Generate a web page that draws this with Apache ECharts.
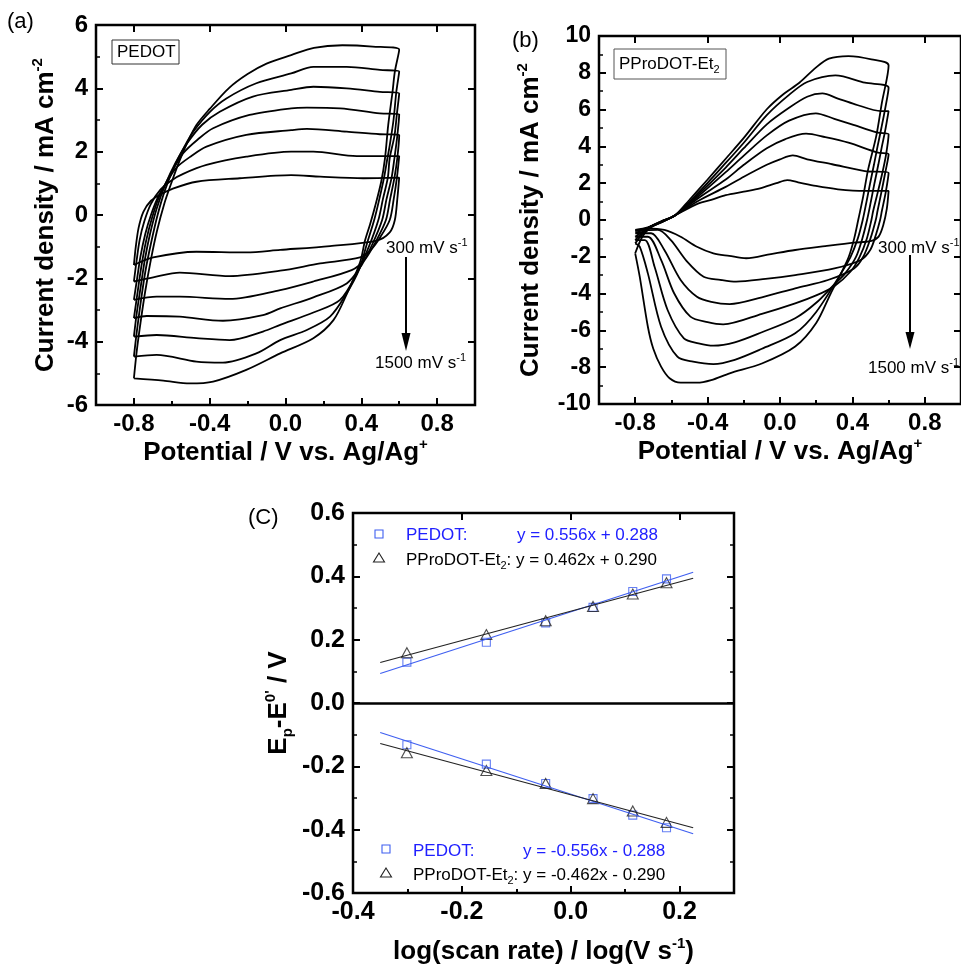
<!DOCTYPE html>
<html>
<head>
<meta charset="utf-8">
<script src="https://cdn.jsdelivr.net/npm/echarts@6/dist/echarts.min.js"></script>
<style>html,body{margin:0;padding:0;background:#fff}#main{width:961px;height:966px}</style>
</head>
<body>
<div id="main"></div>
<script>
// ---- (a) PEDOT cyclic voltammograms, [potential V, current mA cm-2], anodic then cathodic sweep
const pedot300 = [[-0.8,-1.58],[-0.79,-1.0],[-0.775,-0.4],[-0.75,0.1],[-0.71,0.45],[-0.66,0.65],[-0.6,0.82],[-0.47,1.05],[-0.242,1.16],[0.03,1.26],[0.183,1.21],[0.41,1.16],[0.6,1.18],
  [0.59,0.5],[0.577,-0.16],[0.55,-0.55],[0.481,-0.81],[0.235,-0.98],[-0.028,-1.1],[-0.207,-1.18],[-0.47,-1.16],[-0.698,-1.34],[-0.8,-1.58]];
const pedot500 = [[-0.8,-2.1],[-0.787,-1.5],[-0.77,-0.8],[-0.745,-0.2],[-0.71,0.35],[-0.66,0.8],[-0.6,1.1],[-0.54,1.3],[-0.417,1.58],[-0.207,1.84],[0.03,2.0],[0.147,2.0],[0.376,1.86],[0.6,1.86],
  [0.588,1.18],[0.571,0.5],[0.55,-0.16],[0.5,-0.7],[0.45,-1.1],[0.393,-1.34],[0.183,-1.53],[-0.028,-1.76],[-0.295,-1.93],[-0.558,-1.82],[-0.698,-1.97],[-0.8,-2.1]];
const pedot700 = [[-0.8,-2.68],[-0.783,-2.0],[-0.765,-1.3],[-0.74,-0.6],[-0.71,0.0],[-0.67,0.6],[-0.62,1.1],[-0.575,1.5],[-0.5,1.85],[-0.417,2.16],[-0.207,2.53],[0.03,2.68],[0.113,2.72],[0.323,2.63],[0.498,2.55],[0.6,2.53],
  [0.59,1.8],[0.575,1.18],[0.552,0.5],[0.53,-0.16],[0.48,-0.8],[0.42,-1.4],[0.349,-1.74],[0.147,-2.1],[-0.028,-2.37],[-0.295,-2.65],[-0.558,-2.58],[-0.68,-2.58],[-0.8,-2.68]];
const pedot900 = [[-0.8,-3.26],[-0.782,-2.5],[-0.76,-1.6],[-0.735,-0.8],[-0.705,-0.1],[-0.665,0.6],[-0.61,1.25],[-0.54,1.95],[-0.46,2.4],[-0.382,2.74],[-0.19,3.16],[0.03,3.37],[0.113,3.39],[0.288,3.37],[0.498,3.21],[0.6,3.18],
  [0.59,2.5],[0.575,1.8],[0.56,1.18],[0.533,0.5],[0.51,-0.16],[0.46,-0.9],[0.4,-1.6],[0.323,-2.16],[0.147,-2.6],[-0.028,-2.95],[-0.119,-3.16],[-0.33,-3.34],[-0.558,-3.21],[-0.733,-3.19],[-0.8,-3.26]];
const pedot1100 = [[-0.8,-3.84],[-0.785,-3.1],[-0.765,-2.3],[-0.742,-1.4],[-0.715,-0.6],[-0.68,0.2],[-0.635,0.95],[-0.58,1.65],[-0.52,2.26],[-0.44,2.85],[-0.347,3.26],[-0.172,3.74],[0.03,3.95],[0.147,4.05],[0.323,4.0],[0.498,3.89],[0.6,3.84],
  [0.588,3.2],[0.575,2.5],[0.55,1.8],[0.54,1.18],[0.514,0.5],[0.49,-0.16],[0.44,-1.0],[0.38,-1.8],[0.288,-2.68],[0.147,-3.08],[-0.028,-3.47],[-0.119,-3.68],[-0.295,-3.95],[-0.47,-3.89],[-0.68,-3.79],[-0.8,-3.84]];
const pedot1300 = [[-0.8,-4.47],[-0.785,-3.7],[-0.765,-2.8],[-0.74,-1.8],[-0.71,-0.9],[-0.675,0.0],[-0.635,0.8],[-0.585,1.55],[-0.53,2.2],[-0.487,2.63],[-0.4,3.25],[-0.312,3.68],[-0.154,4.16],[0.03,4.47],[0.147,4.68],[0.323,4.68],[0.498,4.58],[0.6,4.53],
  [0.585,3.9],[0.57,3.0],[0.55,2.2],[0.538,1.8],[0.52,1.18],[0.495,0.5],[0.468,-0.16],[0.43,-0.9],[0.39,-1.7],[0.32,-2.5],[0.235,-3.21],[0.113,-3.63],[-0.028,-3.95],[-0.154,-4.37],[-0.33,-4.66],[-0.47,-4.63],[-0.68,-4.42],[-0.8,-4.47]];
const pedot1500 = [[-0.8,-5.16],[-0.785,-4.3],[-0.765,-3.4],[-0.74,-2.4],[-0.71,-1.4],[-0.678,-0.5],[-0.64,0.35],[-0.6,1.05],[-0.56,1.7],[-0.52,2.26],[-0.47,2.84],[-0.4,3.35],[-0.3,4.0],[-0.2,4.45],[-0.1,4.78],[0.03,5.05],[0.15,5.28],[0.3,5.36],[0.46,5.32],[0.6,5.22],
  [0.577,4.53],[0.565,3.9],[0.542,2.84],[0.525,1.79],[0.505,1.05],[0.474,0.3],[0.446,-0.3],[0.42,-0.8],[0.393,-1.5],[0.323,-2.5],[0.253,-3.32],[0.147,-3.89],[-0.028,-4.37],[-0.207,-4.89],[-0.382,-5.26],[-0.505,-5.32],[-0.645,-5.23],[-0.8,-5.16]];

// ---- (b) PProDOT-Et2 cyclic voltammograms
const ppro300 = [[-0.8,-0.54],[-0.73,-0.4],[-0.65,-0.1],[-0.58,0.25],[-0.45,0.9],[-0.38,1.09],[-0.3,1.35],[-0.2,1.54],[-0.11,1.72],[-0.02,2.0],[0.04,2.17],[0.1,2.05],[0.198,1.85],[0.32,1.67],[0.469,1.58],[0.6,1.58],
  [0.59,0.6],[0.57,-0.3],[0.545,-0.9],[0.5,-1.15],[0.409,-1.23],[0.25,-1.42],[0.084,-1.63],[-0.05,-1.85],[-0.187,-2.08],[-0.28,-1.95],[-0.368,-1.81],[-0.459,-1.45],[-0.549,-0.91],[-0.639,-0.54],[-0.73,-0.45],[-0.8,-0.54]];
const ppro500 = [[-0.8,-0.6],[-0.73,-0.42],[-0.65,-0.1],[-0.58,0.25],[-0.45,1.05],[-0.3,1.8],[-0.2,2.35],[-0.073,3.0],[0.0,3.3],[0.071,3.51],[0.15,3.3],[0.288,3.03],[0.469,2.66],[0.6,2.57],
  [0.584,1.5],[0.563,0.5],[0.553,0.0],[0.53,-0.8],[0.5,-1.6],[0.446,-2.17],[0.301,-2.63],[0.084,-2.99],[-0.08,-3.2],[-0.242,-3.35],[-0.33,-3.25],[-0.422,-3.08],[-0.513,-2.26],[-0.603,-1.09],[-0.675,-0.54],[-0.8,-0.6]];
const ppro700 = [[-0.8,-0.72],[-0.73,-0.42],[-0.65,-0.08],[-0.58,0.25],[-0.45,1.2],[-0.3,2.2],[-0.2,3.0],[-0.073,3.9],[0.03,4.4],[0.144,4.69],[0.25,4.5],[0.378,4.2],[0.541,3.66],[0.6,3.57],
  [0.58,2.5],[0.56,1.5],[0.539,0.5],[0.529,0.0],[0.5,-1.0],[0.46,-2.0],[0.409,-2.63],[0.265,-3.26],[0.084,-3.71],[-0.1,-4.2],[-0.278,-4.57],[-0.38,-4.45],[-0.459,-4.17],[-0.549,-3.26],[-0.639,-1.63],[-0.712,-0.72],[-0.8,-0.72]];
const ppro900 = [[-0.8,-0.91],[-0.73,-0.43],[-0.65,-0.07],[-0.58,0.25],[-0.45,1.3],[-0.3,2.6],[-0.2,3.5],[-0.073,4.6],[0.05,5.4],[0.198,5.8],[0.3,5.5],[0.397,5.2],[0.541,4.75],[0.6,4.66],
  [0.585,3.5],[0.564,2.5],[0.54,1.5],[0.515,0.5],[0.505,0.0],[0.48,-1.0],[0.44,-2.0],[0.39,-2.8],[0.3,-3.6],[0.2,-4.1],[0.084,-4.53],[-0.1,-5.1],[-0.314,-5.67],[-0.4,-5.55],[-0.495,-5.25],[-0.585,-3.98],[-0.657,-2.17],[-0.73,-0.91],[-0.8,-0.91]];
const ppro1100 = [[-0.8,-1.09],[-0.73,-0.44],[-0.65,-0.06],[-0.58,0.25],[-0.45,1.4],[-0.3,2.85],[-0.2,3.9],[-0.073,5.2],[0.05,6.1],[0.15,6.7],[0.234,6.88],[0.32,6.6],[0.415,6.29],[0.559,5.92],[0.6,5.92],
  [0.58,4.8],[0.563,4.0],[0.543,3.0],[0.522,2.0],[0.502,1.0],[0.481,0.0],[0.455,-1.0],[0.42,-2.0],[0.36,-2.9],[0.3,-3.5],[0.2,-4.5],[0.084,-5.34],[-0.1,-6.1],[-0.25,-6.65],[-0.368,-6.83],[-0.45,-6.7],[-0.531,-6.43],[-0.621,-4.89],[-0.693,-2.54],[-0.747,-1.09],[-0.8,-1.09]];
const ppro1300 = [[-0.8,-1.27],[-0.73,-0.45],[-0.65,-0.05],[-0.58,0.25],[-0.45,1.5],[-0.3,3.1],[-0.2,4.2],[-0.073,5.7],[0.05,6.8],[0.15,7.5],[0.306,7.86],[0.469,7.46],[0.6,7.19],
  [0.58,6.0],[0.56,5.0],[0.539,4.0],[0.519,3.0],[0.498,2.0],[0.478,1.0],[0.457,0.0],[0.43,-1.0],[0.39,-2.0],[0.337,-2.9],[0.2,-5.0],[0.084,-6.16],[-0.1,-7.0],[-0.25,-7.6],[-0.368,-7.83],[-0.48,-7.7],[-0.567,-7.43],[-0.657,-5.8],[-0.73,-2.9],[-0.775,-1.45],[-0.8,-1.27]];
const ppro1500 = [[-0.8,-1.81],[-0.76,-0.9],[-0.72,-0.45],[-0.65,-0.05],[-0.58,0.25],[-0.5,1.1],[-0.4,2.2],[-0.3,3.33],[-0.2,4.46],[-0.073,6.02],[0.02,6.85],[0.107,7.46],[0.198,8.28],[0.27,8.77],[0.378,8.91],[0.505,8.73],[0.6,8.4],
  [0.563,6.38],[0.532,4.57],[0.487,2.75],[0.46,1.3],[0.433,0.04],[0.41,-1.0],[0.38,-2.0],[0.337,-2.9],[0.28,-4.0],[0.2,-5.6],[0.084,-6.88],[-0.1,-7.8],[-0.278,-8.33],[-0.38,-8.7],[-0.459,-8.84],[-0.549,-8.84],[-0.61,-8.6],[-0.657,-7.97],[-0.7,-7.0],[-0.73,-5.8],[-0.775,-3.08],[-0.8,-1.81]];

// ---- (C) peak potential vs log(scan rate)
const logRate = [-0.301, -0.155, -0.046, 0.041, 0.114, 0.176];
const pedotAnodic = [0.129, 0.192, 0.253, 0.302, 0.352, 0.392];
const pproAnodic = [0.159, 0.216, 0.260, 0.305, 0.344, 0.380];
const pedotCathodic = [-0.132, -0.193, -0.254, -0.302, -0.354, -0.394];
const pproCathodic = [-0.157, -0.213, -0.254, -0.302, -0.341, -0.377];
const fitX = [-0.35, 0.225];
const pedotAnodicFit = [0.093, 0.413];
const pproAnodicFit = [0.128, 0.394];
const pedotCathodicFit = [-0.093, -0.413];
const pproCathodicFit = [-0.128, -0.394];

const cvTicksMajor = [-0.8, -0.4, 0, 0.4, 0.8];
const cvTicksMinor = [-0.6, -0.2, 0.2, 0.6];
const logTicksMajor = [-0.4, -0.2, 0, 0.2];
const logTicksMinor = [-0.3, -0.1, 0.1];

const FONT = '"Liberation Sans", Arial, Helvetica, sans-serif';
const BLUE = '#2020ff';
const BLUE_LINE = '#3f5ff0';
const DARK = '#222';

function fmt1(v) { return Math.abs(v) < 1e-9 ? '0.0' : v.toFixed(1); }

const titleRich = {
  b: { fontSize: 26, fontWeight: 'bold', fontFamily: FONT, color: '#000', lineHeight: 32 },
  sup: { fontSize: 15, fontWeight: 'bold', fontFamily: FONT, color: '#000', verticalAlign: 'top', lineHeight: 16 },
  sub: { fontSize: 15, fontWeight: 'bold', fontFamily: FONT, color: '#000', verticalAlign: 'bottom', lineHeight: 12 }
};
const tickStyle = { color: '#000', width: 2 };

function makeX(grid, min, max, majors, minors, fs, name, nameGap) {
  return [
    { gridIndex: grid, type: 'value', min: min, max: max, position: 'bottom',
      axisLine: { show: false, onZero: false }, splitLine: { show: false },
      axisTick: { inside: true, length: 7, lineStyle: tickStyle, customValues: majors },
      axisLabel: { customValues: majors, fontSize: fs, fontWeight: 'bold', fontFamily: FONT, color: '#000', margin: 7, formatter: fmt1 },
      name: name, nameLocation: 'middle', nameGap: nameGap, nameTextStyle: { rich: titleRich } },
    { gridIndex: grid, type: 'value', min: min, max: max, position: 'bottom',
      axisLine: { show: false, onZero: false }, splitLine: { show: false }, axisLabel: { show: false },
      axisTick: { inside: true, length: 4, lineStyle: tickStyle, customValues: minors } },
    { gridIndex: grid, type: 'value', min: min, max: max, position: 'top',
      axisLine: { show: false, onZero: false }, splitLine: { show: false }, axisLabel: { show: false },
      axisTick: { inside: true, length: 7, lineStyle: tickStyle, customValues: majors } }
  ];
}

function makeY(grid, min, max, interval, fs, fmt, name, nameGap, rightMinor) {
  return [
    { gridIndex: grid, type: 'value', min: min, max: max, interval: interval, position: 'left',
      axisLine: { show: false, onZero: false }, splitLine: { show: false },
      axisTick: { inside: true, length: 7, lineStyle: tickStyle },
      minorTick: { show: true, splitNumber: 2, length: 4, lineStyle: { color: '#000', width: 1.5 } },
      axisLabel: { fontSize: fs, fontWeight: 'bold', fontFamily: FONT, color: '#000', margin: 8, formatter: fmt },
      name: name, nameLocation: 'middle', nameRotate: 90, nameGap: nameGap, nameTextStyle: { rich: titleRich } },
    { gridIndex: grid, type: 'value', min: min, max: max, interval: interval, position: 'right',
      axisLine: { show: false, onZero: false }, splitLine: { show: false }, axisLabel: { show: false },
      axisTick: { inside: true, length: 7, lineStyle: tickStyle },
      minorTick: { show: rightMinor, splitNumber: 2, length: 4, lineStyle: { color: '#000', width: 1.5 } } }
  ];
}

const potentialName = '{b|Potential / V vs. Ag/Ag}{sup|+}';
const currentName = '{b|Current density / mA cm}{sup|-2}';

function cvSeries(data, xi, yi) {
  return { type: 'line', xAxisIndex: xi, yAxisIndex: yi, data: data, showSymbol: false, smooth: 0.3,
    silent: true, lineStyle: { color: '#000', width: 1.8 } };
}

const series = [];
[pedot300, pedot500, pedot700, pedot900, pedot1100, pedot1300, pedot1500].forEach(function (d) { series.push(cvSeries(d, 0, 0)); });
[ppro300, ppro500, ppro700, ppro900, ppro1100, ppro1300, ppro1500].forEach(function (d) { series.push(cvSeries(d, 3, 2)); });

function pairs(xs, ys) { return xs.map(function (x, i) { return [x, ys[i]]; }); }
function fitSeries(ys, color, withZero) {
  const s = { type: 'line', xAxisIndex: 6, yAxisIndex: 4, data: pairs(fitX, ys), showSymbol: false, silent: true,
    lineStyle: { color: color, width: 1.2 } };
  if (withZero) {
    s.markLine = { silent: true, symbol: 'none', label: { show: false },
      lineStyle: { color: '#000', width: 2.5, type: 'solid' }, data: [{ yAxis: 0 }] };
  }
  return s;
}
function pointSeries(ys, shape, color, size) {
  return { type: 'scatter', xAxisIndex: 6, yAxisIndex: 4, data: pairs(logRate, ys), symbol: shape, symbolSize: size,
    silent: true, itemStyle: { color: 'rgba(0,0,0,0)', borderColor: color, borderWidth: 1.1 } };
}
series.push(fitSeries(pedotAnodicFit, BLUE_LINE, true));
series.push(fitSeries(pproAnodicFit, DARK, false));
series.push(fitSeries(pedotCathodicFit, BLUE_LINE, false));
series.push(fitSeries(pproCathodicFit, DARK, false));
series.push(pointSeries(pedotAnodic, 'rect', BLUE_LINE, 8));
series.push(pointSeries(pedotCathodic, 'rect', BLUE_LINE, 8));
series.push(pointSeries(pproAnodic, 'triangle', DARK, [11, 10]));
series.push(pointSeries(pproCathodic, 'triangle', DARK, [11, 10]));

const annoRich = {
  a: { fontSize: 17, fontFamily: FONT, color: '#000', lineHeight: 22 },
  s: { fontSize: 11, fontFamily: FONT, color: '#000', verticalAlign: 'top', lineHeight: 10 },
  d: { fontSize: 11, fontFamily: FONT, color: '#000', verticalAlign: 'bottom', lineHeight: 8 }
};
const legRich = {
  a: { fontSize: 17, fontFamily: FONT, color: DARK, lineHeight: 22 },
  d: { fontSize: 11, fontFamily: FONT, color: DARK, verticalAlign: 'bottom', lineHeight: 8 }
};
function txt(x, y, text, rich, size, color) {
  return { type: 'text', x: x, y: y, silent: true,
    style: { text: text, rich: rich, fontSize: size || 17, fontFamily: FONT, fill: color || '#000', verticalAlign: 'middle' } };
}

const graphic = [
  txt(7, 22, '(a)', null, 22),
  txt(512, 41, '(b)', null, 22),
  txt(248, 518, '(C)', null, 22),
  { type: 'rect', shape: { x: 112, y: 40, width: 67, height: 24 }, style: { fill: '#fff', stroke: '#333', lineWidth: 1 } },
  txt(117, 52, 'PEDOT', null, 17),
  { type: 'rect', shape: { x: 614, y: 49, width: 112, height: 30 }, style: { fill: '#fff', stroke: '#555', lineWidth: 1 } },
  txt(619, 64, '{a|PProDOT-Et}{d|2}', annoRich),
  txt(386, 248, '{a|300 mV s}{s|-1}', annoRich),
  txt(375, 363, '{a|1500 mV s}{s|-1}', annoRich),
  txt(878, 248, '{a|300 mV s}{s|-1}', annoRich),
  txt(868, 368, '{a|1500 mV s}{s|-1}', annoRich),
  { type: 'line', shape: { x1: 406, y1: 257, x2: 406, y2: 336 }, style: { stroke: '#000', lineWidth: 2 } },
  { type: 'polygon', shape: { points: [[401.5, 333], [410.5, 333], [406, 351]] }, style: { fill: '#000' } },
  { type: 'line', shape: { x1: 910, y1: 255, x2: 910, y2: 334 }, style: { stroke: '#000', lineWidth: 2 } },
  { type: 'polygon', shape: { points: [[905.5, 332], [914.5, 332], [910, 349]] }, style: { fill: '#000' } },
  // legend of (C)
  { type: 'rect', shape: { x: 375, y: 530, width: 8, height: 8 }, style: { fill: 'none', stroke: BLUE_LINE, lineWidth: 1.1 } },
  txt(406, 535, 'PEDOT:', null, 17, BLUE),
  txt(517, 535, 'y = 0.556x + 0.288', null, 17, BLUE),
  { type: 'polygon', shape: { points: [[379, 553], [373.5, 562], [384.5, 562]] }, style: { fill: 'none', stroke: DARK, lineWidth: 1.1 } },
  txt(406, 560, '{a|PProDOT-Et}{d|2}{a|: y = 0.462x + 0.290}', legRich),
  { type: 'rect', shape: { x: 382, y: 845, width: 8, height: 8 }, style: { fill: 'none', stroke: BLUE_LINE, lineWidth: 1.1 } },
  txt(413, 851, 'PEDOT:', null, 17, BLUE),
  txt(523, 851, 'y = -0.556x - 0.288', null, 17, BLUE),
  { type: 'polygon', shape: { points: [[386, 868], [380.5, 877], [391.5, 877]] }, style: { fill: 'none', stroke: DARK, lineWidth: 1.1 } },
  txt(413, 875, '{a|PProDOT-Et}{d|2}{a|: y = -0.462x - 0.290}', legRich)
];

const gridBox = { show: true, borderColor: '#000', borderWidth: 2.5, backgroundColor: 'transparent' };
const option = {
  animation: false,
  backgroundColor: '#fff',
  grid: [
    Object.assign({ left: 96, top: 25, width: 379, height: 380 }, gridBox),
    Object.assign({ left: 599, top: 36, width: 369, height: 368 }, gridBox),
    Object.assign({ left: 353, top: 513, width: 381, height: 382 }, gridBox)
  ],
  xAxis: [].concat(
    makeX(0, -1, 1, cvTicksMajor, cvTicksMinor, 24, potentialName, 27),
    makeX(1, -1, 1, cvTicksMajor, cvTicksMinor, 24, potentialName, 27),
    makeX(2, -0.4, 0.3, logTicksMajor, logTicksMinor, 25, '{b|log(scan rate) / log(V s}{sup|-1}{b|)}', 43)
  ),
  yAxis: [].concat(
    makeY(0, -6, 6, 2, 24, function (v) { return String(v); }, currentName, 34, false),
    makeY(1, -10, 10, 2, 23, function (v) { return String(v); }, currentName, 52, false),
    makeY(2, -0.6, 0.6, 0.2, 25, fmt1, "{b|E}{sub|p}{b|-E}{sup|0'}{b| / V}", 58, true)
  ),
  series: series,
  graphic: graphic
};

const chart = echarts.init(document.getElementById('main'), null, { renderer: 'canvas' });
chart.setOption(option);
</script>
</body>
</html>
